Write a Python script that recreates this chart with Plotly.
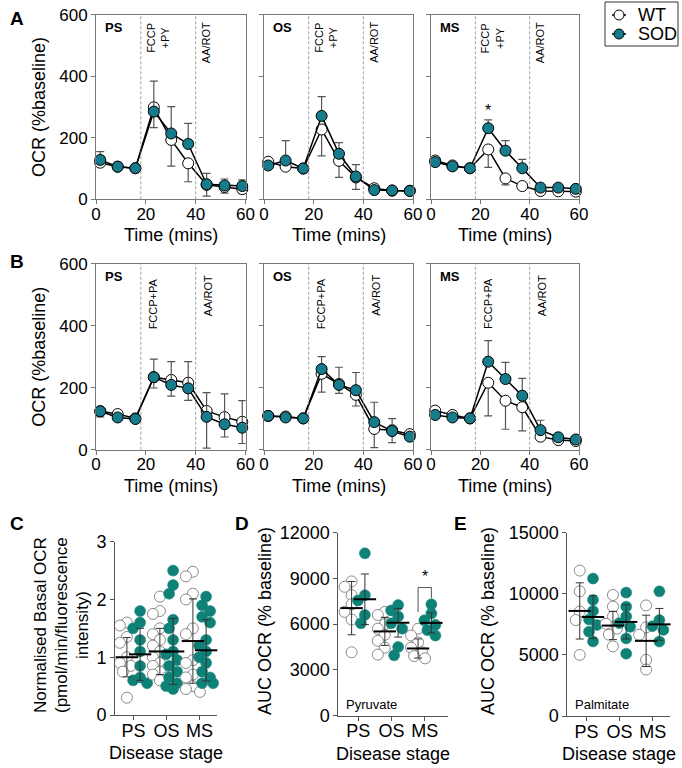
import plotly.graph_objects as go

W, H = 682, 768

# ---------------- data ----------------
time_min = [1.7, 8.7, 15.8, 23.2, 30.2, 37.0, 44.4, 51.6, 58.7]
time_ticks = [0, 20, 40, 60]
ocr_ticks = [0, 200, 400, 600]
stages = ["PS", "OS", "MS"]
groups = ["WT", "SOD"]

# Panel A (pyruvate) : means, WT lower SD, SOD upper SD
a_ps_wt = [119, 106, 101, 299, 193, 117, 47, 40, 33]
a_ps_wt_sd = [10, 5, 5, 66, 85, 60, 37, 20, 15]
a_ps_sod = [128, 106, 101, 285, 214, 180, 49, 45, 43]
a_ps_sod_sd = [27, 5, 5, 99, 87, 67, 35, 21, 20]

a_os_wt = [122, 106, 100, 227, 125, 71, 36, 28, 28]
a_os_wt_sd = [5, 5, 5, 86, 54, 39, 5, 3, 3]
a_os_sod = [110, 126, 100, 271, 148, 74, 30, 29, 27]
a_os_sod_sd = [5, 65, 5, 63, 36, 39, 5, 3, 3]

a_ms_wt = [126, 110, 101, 162, 68, 43, 27, 26, 25]
a_ms_wt_sd = [5, 5, 5, 58, 21, 5, 5, 3, 3]
a_ms_sod = [121, 107, 101, 231, 158, 101, 38, 38, 34]
a_ms_sod_sd = [5, 5, 5, 27, 33, 29, 8, 5, 5]

# Panel B (palmitate)
b_ps_wt = [124, 115, 101, 234, 225, 216, 125, 105, 90]
b_ps_wt_sd = [18, 5, 5, 35, 52, 57, 120, 64, 70]
b_ps_sod = [124, 104, 99, 234, 209, 198, 106, 82, 71]
b_ps_sod_sd = [5, 5, 5, 58, 75, 86, 78, 98, 87]

b_os_wt = [109, 107, 101, 245, 212, 177, 67, 63, 50]
b_os_wt_sd = [5, 5, 5, 59, 30, 36, 60, 40, 10]
b_os_sod = [109, 104, 101, 260, 209, 192, 89, 60, 42]
b_os_sod_sd = [5, 5, 5, 40, 57, 57, 64, 40, 8]

b_ms_wt = [126, 112, 101, 216, 158, 137, 42, 31, 28]
b_ms_wt_sd = [5, 5, 5, 107, 92, 76, 10, 5, 5]
b_ms_sod = [112, 104, 101, 284, 228, 174, 63, 40, 33]
b_ms_sod_sd = [5, 5, 5, 68, 54, 56, 32, 5, 5]

# Panel C : normalised basal OCR
c_wt = {
    "PS": [1.6, 1.55, 1.35, 1.25, 1.0, 0.9, 0.85, 0.75, 0.3],
    "OS": [2.05, 1.8, 1.75, 1.5, 1.4, 1.3, 1.2, 1.1, 1.0, 0.9, 0.85, 0.8, 0.75, 0.7, 0.65, 0.6],
    "MS": [2.48, 2.4, 2.1, 2.0, 1.5, 1.4, 0.95, 0.9, 0.7, 0.65, 0.5, 0.45, 0.4],
}
c_sod = {
    "PS": [1.8, 1.6, 1.5, 1.3, 1.1, 0.85, 0.65, 0.6, 0.55],
    "OS": [2.5, 2.25, 2.1, 1.65, 1.5, 1.3, 1.1, 1.05, 0.95, 0.85, 0.75, 0.65, 0.55, 0.5, 0.45],
    "MS": [2.05, 1.9, 1.8, 1.7, 1.6, 1.3, 1.2, 1.1, 1.0, 0.9, 0.75, 0.65, 0.55, 0.55],
}
c_wt_mean = [1.0, 1.1, 1.28]
c_wt_sd = [0.34, 0.4, 0.73]
c_sod_mean = [1.05, 1.1, 1.12]
c_sod_sd = [0.45, 0.57, 0.53]

# Panel D : AUC pyruvate
d_wt = {
    "PS": [8800, 8450, 7900, 7300, 6800, 6300, 4150],
    "OS": [6800, 6600, 6000, 5700, 5300, 4900, 4450, 4000],
    "MS": [5700, 5250, 4800, 4450, 4150, 3900, 3750],
}
d_sod = {
    "PS": [10650, 7900, 7550, 6600, 6050],
    "OS": [7250, 6900, 6500, 6050, 5700, 4500, 3950],
    "MS": [7300, 6700, 6250, 5950, 5600, 5250],
}
d_wt_mean = [7050, 5520, 4400]
d_wt_sd = [1750, 920, 630]
d_sod_mean = [7630, 6090, 6080]
d_sod_sd = [1660, 940, 660]

# Panel E : AUC palmitate
e_wt = {
    "PS": [11900, 10200, 8550, 7850, 5000],
    "OS": [9900, 8950, 8150, 7550, 7150, 6650, 5700],
    "MS": [9050, 7250, 6650, 4600, 3800],
}
e_sod = {
    "PS": [11250, 9500, 8600, 7900, 7450, 6900, 6100],
    "OS": [10100, 8950, 8150, 7600, 7300, 6350, 5100],
    "MS": [10200, 7850, 7350, 7050, 6100],
}
e_wt_mean = [8600, 7400, 6150]
e_wt_sd = [2300, 1150, 2100]
e_sod_mean = [8100, 7700, 7500]
e_sod_sd = [1750, 1400, 1300]

# ---------------- style ----------------
FONT = "Liberation Sans, Arial, sans-serif"
TEAL_A = "#167c8c"
TEAL_C = "#0f8278"
AXC = "#777777"


def fx(p):
    return p / W


def fy(p):
    return 1 - p / H


fig = go.Figure()
layout = {}
shapes = []
annotations = []


def txt(text, x, y, size=18, xanchor="center", yanchor="middle", angle=0, xref="paper",
        yref="paper", xshift=0, bold=False):
    if bold:
        text = "<b>%s</b>" % text
    annotations.append(dict(text=text, x=x, y=y, xref=xref, yref=yref, xanchor=xanchor,
                            yanchor=yanchor, textangle=angle, xshift=xshift, showarrow=False,
                            font=dict(size=size, color="black", family=FONT)))


def ax_name(i):
    return "" if i == 1 else str(i)


def time_panel(i, left, right, top, bottom, stage, drug, wt, wt_sd, sod, sod_sd,
               ylabels, drug_dx, aa_dx, drug_top, aa_top, star=False):
    n = ax_name(i)
    layout["xaxis" + n] = dict(
        domain=[fx(left), fx(right)], range=[0, 60], tickvals=time_ticks,
        anchor="y" + n, showline=True, linecolor=AXC, linewidth=1, mirror=True,
        ticks="outside", ticklen=4, tickcolor=AXC, showgrid=False, zeroline=False,
        automargin=False, ticklabelstandoff=-5,
        tickfont=dict(size=17, color="black", family=FONT))
    layout["yaxis" + n] = dict(
        domain=[fy(bottom), fy(top)], range=[0, 600], tickvals=ocr_ticks,
        anchor="x" + n, showline=True, linecolor=AXC, linewidth=1, mirror=True,
        ticks="outside", ticklen=4, tickcolor=AXC, showgrid=False, zeroline=False,
        showticklabels=ylabels, automargin=False,
        tickfont=dict(size=17, color="black", family=FONT))
    xr, yr = "x" + n, "y" + n
    fig.add_trace(go.Scatter(
        x=time_min, y=wt, xaxis=xr, yaxis=yr, mode="lines+markers", name="WT",
        showlegend=False, cliponaxis=False,
        line=dict(color="black", width=1.5),
        marker=dict(size=11, color="white", line=dict(color="black", width=1)),
        error_y=dict(type="data", symmetric=False, array=[0] * len(wt),
                     arrayminus=wt_sd, color="#555555", thickness=1.2, width=4)))
    fig.add_trace(go.Scatter(
        x=time_min, y=sod, xaxis=xr, yaxis=yr, mode="lines+markers", name="SOD",
        showlegend=False, cliponaxis=False,
        line=dict(color="black", width=1.5),
        marker=dict(size=11, color=TEAL_A, line=dict(color="black", width=1)),
        error_y=dict(type="data", symmetric=False, array=sod_sd,
                     arrayminus=[0] * len(sod), color="#555555", thickness=1.2, width=4)))
    for xv in (18, 40):
        shapes.append(dict(type="line", xref=xr, yref=yr + " domain", x0=xv, x1=xv,
                           y0=0, y1=1, line=dict(color="#888888", width=0.8, dash="3px,2px")))
    txt(stage, fx(left + 7), fy(top + 13), size=13, xanchor="left", bold=True)
    txt(drug, 18, fy(drug_top), size=11, yanchor="top", angle=-90, xref=xr, xshift=drug_dx)
    txt("AA/ROT", 40, fy(aa_top), size=11, yanchor="top", angle=-90, xref=xr, xshift=aa_dx)
    txt("Time (mins)", fx((left + right) / 2), fy(bottom + 36))
    if star:
        txt("*", time_min[3], 290, size=16, xref=xr, yref=yr)


panels_x = [(96, 245.5), (264, 413), (431, 579)]
A_top, A_bot = 14.7, 199.3
B_top, B_bot = 263.7, 449.7

a_sets = [(a_ps_wt, a_ps_wt_sd, a_ps_sod, a_ps_sod_sd),
          (a_os_wt, a_os_wt_sd, a_os_sod, a_os_sod_sd),
          (a_ms_wt, a_ms_wt_sd, a_ms_sod, a_ms_sod_sd)]
b_sets = [(b_ps_wt, b_ps_wt_sd, b_ps_sod, b_ps_sod_sd),
          (b_os_wt, b_os_wt_sd, b_os_sod, b_os_sod_sd),
          (b_ms_wt, b_ms_wt_sd, b_ms_sod, b_ms_sod_sd)]

for k in range(3):
    l, r = panels_x[k]
    wt, wsd, sod, ssd = a_sets[k]
    time_panel(k + 1, l, r, A_top, A_bot, stages[k], "FCCP<br>+PY", wt, wsd, sod, ssd,
               k == 0, 17, 11, 21, 20, star=(k == 2))
for k in range(3):
    l, r = panels_x[k]
    wt, wsd, sod, ssd = b_sets[k]
    time_panel(k + 4, l, r, B_top, B_bot, stages[k], "FCCP+PA", wt, wsd, sod, ssd,
               k == 0, 12, 12, 276, 273)

txt("OCR (%baseline)", fx(39), fy((A_top + A_bot) / 2), angle=-90)
txt("OCR (%baseline)", fx(39), fy((B_top + B_bot) / 2), angle=-90)


# ---------------- scatter panels ----------------
def swarm(vals, center, xppu, yppu, diam=9.0):
    cands = [0, -4, 4, -7, 7]
    placed = []
    res = [center] * len(vals)
    order = sorted(range(len(vals)), key=lambda j: -vals[j])
    for j in order:
        yp = vals[j] * yppu
        best, bestd = 0, -1.0
        for c in cands:
            d = min([((c - a) ** 2 + (yp - b) ** 2) ** 0.5 for a, b in placed] or [1e9])
            if d >= diam:
                best = c
                break
            if d > bestd:
                best, bestd = c, d
        placed.append((best, yp))
        res[j] = center + best / xppu
    return res


def scatter_panel(i, left, right, top, bottom, yrange, yticks, wt, sod, wt_mean, wt_sd,
                  sod_mean, sod_sd, xrange):
    n = ax_name(i)
    xr, yr = "x" + n, "y" + n
    layout["xaxis" + n] = dict(
        domain=[fx(left), fx(right)], range=xrange, tickvals=[0, 1, 2], ticktext=stages,
        anchor=yr, showline=True, linecolor="#555555", linewidth=1, ticks="outside",
        ticklen=4, tickcolor="#555555", showgrid=False, zeroline=False, automargin=False,
        ticklabelstandoff=-5,
        tickfont=dict(size=18, color="black", family=FONT))
    layout["yaxis" + n] = dict(
        domain=[fy(bottom), fy(top)], range=yrange, tickvals=yticks, tickformat="d",
        anchor=xr, showline=True, linecolor="#555555", linewidth=1, ticks="outside",
        ticklen=4, tickcolor="#555555", showgrid=False, zeroline=False, automargin=False,
        tickfont=dict(size=18, color="black", family=FONT))
    xppu = (right - left) / (xrange[1] - xrange[0])
    yppu = (bottom - top) / (yrange[1] - yrange[0])
    for g, st in enumerate(stages):
        xs = swarm(wt[st], g - 0.2, xppu, yppu)
        fig.add_trace(go.Scatter(
            x=xs, y=wt[st], xaxis=xr, yaxis=yr, mode="markers", showlegend=False,
            cliponaxis=False, name="WT " + st,
            marker=dict(size=11, color="white", line=dict(color="#8a8a8a", width=1))))
        xs = swarm(sod[st], g + 0.2, xppu, yppu)
        fig.add_trace(go.Scatter(
            x=xs, y=sod[st], xaxis=xr, yaxis=yr, mode="markers", showlegend=False,
            cliponaxis=False, name="SOD " + st,
            marker=dict(size=11, color=TEAL_C, line=dict(color=TEAL_C, width=0.5))))
    for off, mean, sd in ((-0.2, wt_mean, wt_sd), (0.2, sod_mean, sod_sd)):
        fig.add_trace(go.Scatter(
            x=[g + off for g in range(3)], y=mean, xaxis=xr, yaxis=yr, mode="markers",
            showlegend=False, cliponaxis=False, name="mean",
            marker=dict(symbol="line-ew", size=16, line=dict(color="black", width=2)),
            error_y=dict(type="data", array=sd, color="#333333", thickness=1, width=4)))
    txt("Disease stage", fx((left + right) / 2), fy(bottom + 38))


scatter_panel(7, 115, 217, 541.7, 715, [0, 3], [0, 1, 2, 3], c_wt, c_sod,
              c_wt_mean, c_wt_sd, c_sod_mean, c_sod_sd, [-0.56, 2.53])
scatter_panel(8, 338.3, 448, 532.7, 715.5, [0, 12000], [0, 3000, 6000, 9000, 12000],
              d_wt, d_sod, d_wt_mean, d_wt_sd, d_sod_mean, d_sod_sd, [-0.6, 2.7])
scatter_panel(9, 567.3, 670, 532.7, 716, [0, 15000], [0, 5000, 10000, 15000],
              e_wt, e_sod, e_wt_mean, e_wt_sd, e_sod_mean, e_sod_sd, [-0.575, 2.52])

txt("Normalised Basal OCR", fx(40), fy(625), size=17, angle=-90)
txt("(pmol/min/fluorescence", fx(61), fy(625), size=17, angle=-90)
txt("intensity)", fx(82), fy(625), size=17, angle=-90)
txt("AUC OCR (% baseline)", fx(265), fy(621), angle=-90)
txt("AUC OCR (% baseline)", fx(488), fy(621), angle=-90)
txt("Pyruvate", fx(344), fy(704), size=13, xanchor="left")
txt("Palmitate", fx(573), fy(704), size=13, xanchor="left")

# significance bracket in D
for (x0, y0, x1, y1) in ((1.8, 6800, 1.8, 8400), (1.8, 8400, 2.2, 8400), (2.2, 8400, 2.2, 7700)):
    shapes.append(dict(type="line", xref="x8", yref="y8", x0=x0, y0=y0, x1=x1, y1=y1,
                       line=dict(color="#555555", width=1)))
txt("*", 2.0, 9100, size=16, xref="x8", yref="y8")

# panel letters
for letter, px, py in (("A", 8, 18), ("B", 8, 262), ("C", 8, 523), ("D", 233, 523), ("E", 452, 523)):
    txt(letter, fx(px), fy(py), size=19, xanchor="left", bold=True)

# legend (drawn box)
shapes.append(dict(type="rect", xref="paper", yref="paper", x0=fx(605), x1=fx(678),
                   y0=fy(46), y1=fy(2), line=dict(color="#333333", width=1),
                   fillcolor="white", layer="above"))
for g, py, fill in ((groups[0], 15, "white"), (groups[1], 34, TEAL_A)):
    shapes.append(dict(type="line", xref="paper", yref="paper", x0=fx(612), x1=fx(626),
                       y0=fy(py), y1=fy(py), line=dict(color="black", width=1.5),
                       layer="above"))
    shapes.append(dict(type="circle", xref="paper", yref="paper", x0=fx(614), x1=fx(624),
                       y0=fy(py + 5), y1=fy(py - 5), fillcolor=fill,
                       line=dict(color="black", width=1), layer="above"))
    txt(g, fx(636), fy(py), size=18, xanchor="left")

fig.update_layout(
    width=W, height=H, margin=dict(l=0, r=0, t=0, b=0, autoexpand=False),
    paper_bgcolor="white", plot_bgcolor="white", showlegend=False,
    font=dict(family=FONT, color="black"),
    shapes=shapes, annotations=annotations,
    **layout)

fig.write_html("out.html", config={"displayModeBar": False},
               post_script="document.body.style.margin='0px';document.body.style.overflow='hidden';")
